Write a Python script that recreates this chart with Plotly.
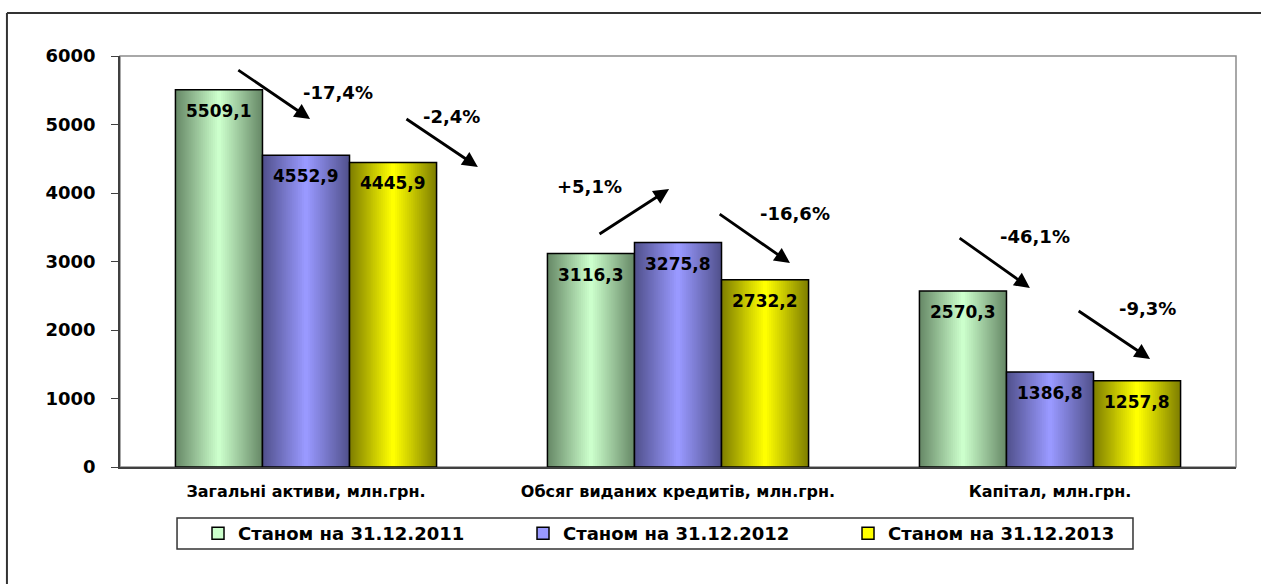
import plotly.graph_objects as go

# categories and values (млн.грн.)
categories = ['Загальні активи, млн.грн.', 'Обсяг виданих кредитів, млн.грн.', 'Капітал, млн.грн.']
series_names = ['Станом на 31.12.2011', 'Станом на 31.12.2012', 'Станом на 31.12.2013']
values_2011 = [5509.1, 3116.3, 2570.3]
values_2012 = [4552.9, 3275.8, 1386.8]
values_2013 = [4445.9, 2732.2, 1257.8]
changes = ['-17,4%', '-2,4%', '+5,1%', '-16,6%', '-46,1%', '-9,3%']

series_values = [values_2011, values_2012, values_2013]

# gradient colours: (edge, centre)
gradients = [
    ((104, 138, 104), (204, 255, 204)),
    ((82, 82, 142), (153, 153, 255)),
    ((128, 128, 0), (255, 255, 0)),
]

FONT = 'DejaVu Sans'
bar_w = 0.234
n_steps = 22
x_idx = list(range(len(categories)))


def mix(c1, c2, t):
    return 'rgb(%d,%d,%d)' % tuple(round(a + (b - a) * t) for a, b in zip(c1, c2))


fig = go.Figure()

for s, vals in enumerate(series_values):
    left = -1.5 * bar_w + s * bar_w
    edge, centre = gradients[s]
    step = bar_w / (2 * n_steps)
    # nested bars, dark at the edges and light in the middle
    for k in range(n_steps):
        fig.add_trace(go.Bar(
            x=x_idx, y=vals,
            offset=left + k * step,
            width=bar_w - 2 * k * step,
            marker=dict(color=mix(edge, centre, k / (n_steps - 1)), line=dict(width=0)),
            showlegend=False, hoverinfo='skip'
        ))
    # outline
    fig.add_trace(go.Bar(
        x=x_idx, y=vals, offset=left, width=bar_w,
        marker=dict(color='rgba(0,0,0,0)', line=dict(color='black', width=1.5)),
        showlegend=False, hoverinfo='skip'
    ))
    for i, v in enumerate(vals):
        fig.add_annotation(
            x=i + left + bar_w / 2, y=v, yshift=-21,
            text=f'{v:.1f}'.replace('.', ','), showarrow=False,
            font=dict(family=FONT, size=17, color='black', weight='bold')
        )

# legend entries
for s, name in enumerate(series_names):
    fig.add_trace(go.Bar(
        x=[None], y=[None], name=name, hoverinfo='skip',
        marker=dict(color=mix(*gradients[s], 1.0), line=dict(color='black', width=1.5))
    ))

# change arrows: (tail x, tail y, head x, head y, text x, text y)
arrows = [
    (-0.186, 5810, 0.011, 5080, 0.086, 5460),
    (0.266, 5095, 0.462, 4380, 0.392, 5110),
    (0.785, 3387, 0.976, 4058, 0.763, 4088),
    (1.108, 3708, 1.301, 2978, 1.315, 3708),
    (1.753, 3358, 1.946, 2613, 1.960, 3358),
    (2.073, 2292, 2.269, 1577, 2.263, 2307),
]
for (ax, ay, hx, hy, tx, ty), label in zip(arrows, changes):
    fig.add_annotation(
        x=hx, y=hy, ax=ax, ay=ay, axref='x', ayref='y', xref='x', yref='y',
        text='', showarrow=True, arrowhead=2, arrowsize=1.1, arrowwidth=2.8,
        arrowcolor='black', standoff=0
    )
    fig.add_annotation(
        x=tx, y=ty, text=label, showarrow=False,
        font=dict(family=FONT, size=18, color='black', weight='bold')
    )

# plot area border, outer frame (top and left only visible), legend box
fig.add_shape(type='rect', xref='paper', yref='paper', x0=0, x1=1, y0=0, y1=1,
              line=dict(color='#8c8c8c', width=1.5), layer='below')
fig.add_shape(type='line', xref='paper', yref='paper', x0=-0.1013, x1=1.03, y0=1.1046, y1=1.1046,
              line=dict(color='#333333', width=2), layer='below')
fig.add_shape(type='line', xref='paper', yref='paper', x0=-0.1013, x1=-0.1013, y0=-0.3, y1=1.1046,
              line=dict(color='#333333', width=2), layer='below')
fig.add_shape(type='rect', xref='paper', yref='paper', x0=0.0511, x1=0.9077, y0=-0.1995, y1=-0.1241,
              line=dict(color='#333333', width=1.5), layer='below')

fig.update_layout(
    width=1261, height=584, autosize=False,
    margin=dict(l=120, r=25, t=56, b=117),
    barmode='overlay',
    plot_bgcolor='white', paper_bgcolor='white',
    font=dict(family=FONT, color='black'),
    hovermode=False,
    xaxis=dict(
        range=[-0.5, 2.5], tickmode='array', tickvals=x_idx, ticktext=categories,
        showgrid=False, zeroline=False, showline=True, linecolor='#404040', linewidth=1.5,
        ticks='', tickfont=dict(family=FONT, size=16, color='black', weight='bold'),
        ticklabelstandoff=9
    ),
    yaxis=dict(
        range=[0, 6000], dtick=1000, showgrid=False, zeroline=False,
        showline=True, linecolor='#404040', linewidth=1.5,
        ticks='outside', ticklen=7, tickcolor='#404040',
        tickfont=dict(family=FONT, size=18, color='black', weight='bold'),
        ticklabelstandoff=12
    ),
    legend=dict(
        orientation='h', x=0.0699, xanchor='left', y=-0.1618, yanchor='middle',
        borderwidth=0, bgcolor='rgba(0,0,0,0)',
        font=dict(family=FONT, size=18, color='black', weight='bold'),
        entrywidth=280, traceorder='normal'
    ),
    showlegend=True
)

# category boundary ticks on the x axis
for b in [-0.5, 0.5, 1.5, 2.5]:
    fig.add_shape(type='line', xref='x', yref='y', x0=b, x1=b, y0=0, y1=-90,
                  line=dict(color='#404040', width=1.5))

fig.write_html('out.html', config={'displayModeBar': False},
               post_script="document.body.style.margin='0';document.body.style.overflow='hidden';")
